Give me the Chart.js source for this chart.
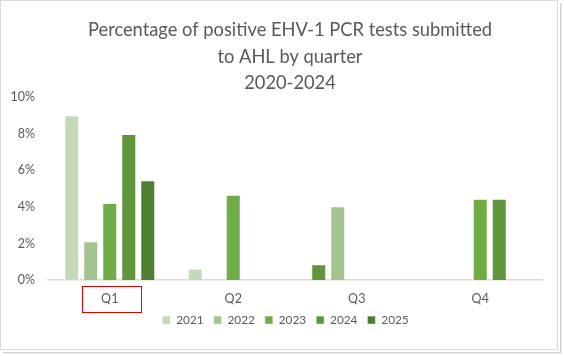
<!DOCTYPE html>
<html>
<head>
<meta charset="utf-8">
<script src="https://cdn.jsdelivr.net/npm/chart.js@4/dist/chart.umd.min.js"></script>
<style>
  html, body { margin: 0; padding: 0; background: #fff; }
  #frame { position: absolute; left: 0; top: 0; width: 556px; height: 348px; border: 1px solid #d9d9d9; box-shadow: 2px 2px 0 #ffffff, 3px 3px 0 #d0d0d0, 4px 4px 0 #ececec; }
  #wrap { position: absolute; left: 0; top: 0; width: 564px; height: 356px; }
</style>
</head>
<body>
<div id="frame"></div>
<div id="wrap"><canvas id="c" width="564" height="356"></canvas></div>
<script>
const categories = ['Q1', 'Q2', 'Q3', 'Q4'];
const seriesNames = ['2021', '2022', '2023', '2024', '2025'];
const s2021 = [9.0, 0.64, 0.87, null];
const s2022 = [2.13, null, 4.04, null];
const s2023 = [4.22, 4.67, null, 4.45];
const s2024 = [7.98, null, null, 4.45];
const s2025 = [5.45, null, null, null];
const yTicks = [0, 2, 4, 6, 8, 10];
const titleLines = ['Percentage of positive EHV-1 PCR tests submitted', 'to AHL by quarter', '2020-2024'];

const colors = ['#C4D9B8', '#A3C48F', '#70AD47', '#5F963B', '#507F32'];
// Q3 2021 bar is shown in the darker green in the source
const c2021 = [colors[0], colors[0], colors[3], colors[0]];

const seriesData = [s2021, s2022, s2023, s2024, s2025];
const datasets = seriesData.map((d, i) => ({
  label: seriesNames[i],
  data: d,
  backgroundColor: i === 0 ? c2021 : colors[i],
  borderColor: 'rgba(255,255,255,0.5)',
  borderWidth: 1,
  categoryPercentage: 0.77,
  barPercentage: 0.79
}));

const titlePlugin = {
  id: 'customTitle',
  afterDraw(chart) {
    const ctx = chart.ctx;
    ctx.save();
    ctx.fillStyle = '#595959';
    ctx.font = '18.3px Lato';
    ctx.textAlign = 'center';
    ctx.textBaseline = 'middle';
    const cx = chart.width / 2 + 8;
    titleLines.forEach((t, i) => ctx.fillText(t, cx, 30 + i * 26.7));
    ctx.restore();
  }
};

// shift legend so it is centred like in the source
const legendShift = {
  id: 'legendShift',
  afterLayout(chart) {
    const lg = chart.legend;
    if (lg) { lg.left += 14.5; lg.right += 14.5; }
  }
};

const redBox = {
  id: 'redBox',
  afterDraw(chart) {
    const x = chart.scales.x;
    const cx = x.getPixelForValue(0) + 2;
    const ctx = chart.ctx;
    ctx.save();
    ctx.strokeStyle = '#E00000';
    ctx.lineWidth = 1;
    ctx.strokeRect(Math.round(cx - 29.5) + 0.5, Math.round(x.top + 6) + 0.5, 59, 26);
    ctx.restore();
  }
};

new Chart(document.getElementById('c'), {
  type: 'bar',
  data: { labels: categories, datasets },
  plugins: [titlePlugin, legendShift, redBox],
  options: {
    responsive: false,
    animation: false,
    layout: { padding: { left: 0, right: 22, top: 97, bottom: 20 } },
    plugins: {
      title: { display: false },
      legend: {
        position: 'bottom',
        labels: {
          color: '#595959',
          font: { family: 'Lato', size: 11.8 },
          boxWidth: 8,
          boxHeight: 8,
          padding: 10
        }
      },
      tooltip: { enabled: false }
    },
    scales: {
      x: {
        grid: { display: false, drawTicks: false },
        border: { display: true, color: '#d9d9d9', width: 1.5 },
        ticks: { color: '#595959', font: { family: 'Lato', size: 12.5 }, padding: 11 },
        afterFit(s) { s.height = 24; }
      },
      y: {
        min: 0, max: 10,
        afterBuildTicks(s) { s.ticks = yTicks.map(v => ({ value: v })); },
        grid: { display: false, drawTicks: false },
        border: { display: false },
        ticks: { color: '#595959', font: { family: 'Lato', size: 12.5 }, padding: 13, callback: v => v + '%' },
        afterFit(s) { s.width = 48; }
      }
    }
  }
});
</script>
</body>
</html>
